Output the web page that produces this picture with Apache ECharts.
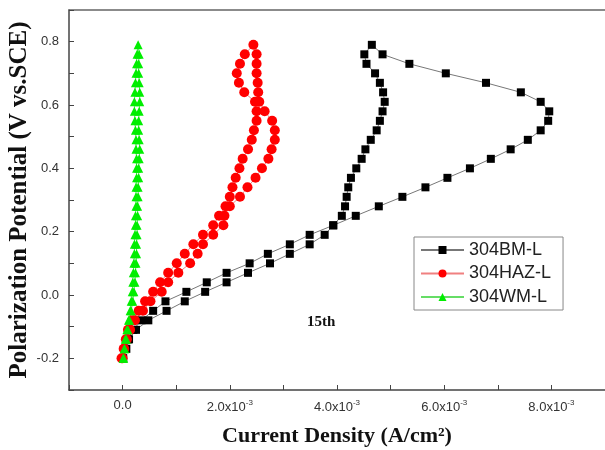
<!DOCTYPE html>
<html>
<head>
<meta charset="utf-8">
<script src="https://cdn.jsdelivr.net/npm/echarts@6/dist/echarts.min.js"></script>
<style>
  html, body { margin: 0; padding: 0; background: #fff; }
  #main { width: 605px; height: 450px; }
</style>
</head>
<body>
<div id="main"></div>
<script>
// potentials (V vs. SCE), forward scan up and reverse scan down
const potUp = [-0.20, -0.17, -0.14, -0.11, -0.08, -0.05, -0.02, 0.01, 0.04, 0.07, 0.10, 0.13, 0.16, 0.19, 0.22, 0.25, 0.28,
  0.31, 0.34, 0.37, 0.40, 0.43, 0.46, 0.49, 0.52, 0.55, 0.58, 0.61, 0.64, 0.67, 0.70, 0.73, 0.76, 0.79];
const potDown = [0.76, 0.73, 0.70, 0.67, 0.64, 0.61, 0.58, 0.55, 0.52, 0.49, 0.46, 0.43, 0.40, 0.37, 0.34, 0.31, 0.28,
  0.25, 0.22, 0.19, 0.16, 0.13, 0.10, 0.07, 0.04, 0.01, -0.02, -0.05, -0.08, -0.11, -0.14, -0.17, -0.20];

// current density in units of 1e-3 A/cm2
const bmUp = [0.01, 0.07, 0.12, 0.25, 0.48, 0.82, 1.16, 1.54, 1.94, 2.34, 2.75, 3.12, 3.49, 3.77, 3.93, 4.09, 4.15,
  4.18, 4.21, 4.26, 4.36, 4.46, 4.53, 4.63, 4.74, 4.80, 4.85, 4.89, 4.86, 4.80, 4.71, 4.55, 4.51, 4.65];
const bmDown = [4.85, 5.35, 6.03, 6.78, 7.43, 7.80, 7.96, 7.94, 7.80, 7.56, 7.24, 6.87, 6.48, 6.06, 5.65, 5.22, 4.78,
  4.35, 3.93, 3.49, 3.12, 2.71, 2.37, 1.94, 1.57, 1.19, 0.80, 0.57, 0.35, 0.20, 0.10, 0.05, 0.01];

const hazUp = [-0.02, 0.02, 0.06, 0.10, 0.18, 0.30, 0.42, 0.57, 0.70, 0.85, 1.01, 1.16, 1.32, 1.50, 1.69, 1.80, 1.92,
  2.00, 2.05, 2.11, 2.18, 2.24, 2.34, 2.41, 2.45, 2.50, 2.50, 2.47, 2.27, 2.17, 2.13, 2.19, 2.28, 2.44];
const hazDown = [2.50, 2.50, 2.50, 2.52, 2.53, 2.55, 2.65, 2.79, 2.84, 2.84, 2.78, 2.72, 2.60, 2.48, 2.33, 2.19, 2.00,
  1.90, 1.88, 1.69, 1.50, 1.40, 1.26, 1.04, 0.85, 0.73, 0.52, 0.38, 0.23, 0.14, 0.08, 0.03, 0.00];

const wmUp = [0.01, 0.03, 0.05, 0.08, 0.11, 0.14, 0.16, 0.18, 0.19, 0.20, 0.21, 0.22, 0.22, 0.23, 0.24, 0.24, 0.25,
  0.25, 0.25, 0.26, 0.26, 0.26, 0.25, 0.25, 0.24, 0.23, 0.22, 0.22, 0.23, 0.24, 0.25, 0.26, 0.27, 0.29];
const wmDown = [0.31, 0.30, 0.30, 0.31, 0.32, 0.32, 0.31, 0.30, 0.30, 0.31, 0.32, 0.31, 0.30, 0.30, 0.29, 0.29, 0.28,
  0.28, 0.27, 0.27, 0.26, 0.26, 0.25, 0.24, 0.23, 0.21, 0.19, 0.16, 0.13, 0.10, 0.07, 0.04, 0.02];

const seriesNames = ['304BM-L', '304HAZ-L', '304WM-L'];
const xTickLabels = ['0.0', '2.0x10', '4.0x10', '6.0x10', '8.0x10'];
const yTickLabels = ['-0.2', '0.0', '0.2', '0.4', '0.6', '0.8'];

// join forward and reverse scans into one path
const loop = (up, down) => {
  const pts = up.map((c, i) => [c, potUp[i]]);
  down.forEach((c, i) => pts.push([c, potDown[i]]));
  return pts;
};

const chart = echarts.init(document.getElementById('main'));
const axisColor = '#444';

const option = {
  animation: false,
  grid: { left: 69, right: 0, top: 10, bottom: 60, containLabel: false, outerBoundsMode: 'none' },
  legend: {
    orient: 'vertical',
    left: 414, top: 237,
    padding: [4, 12, 4, 6],
    itemWidth: 43, itemHeight: 10, itemGap: 5.5,
    borderColor: '#888', borderWidth: 1,
    textStyle: { fontFamily: 'Liberation Sans', fontSize: 18, color: '#222' },
    data: seriesNames
  },
  xAxis: [{
    type: 'value', min: -1, max: 9, interval: 1,
    name: 'Current Density (A/cm²)',
    nameLocation: 'middle', nameGap: 35,
    nameTextStyle: { fontFamily: 'Liberation Serif', fontWeight: 'bold', fontSize: 22, color: '#111' },
    axisLine: { onZero: false, lineStyle: { color: axisColor, width: 1.5 } },
    axisTick: { inside: true, length: 5, lineStyle: { color: axisColor } },
    splitLine: { show: false },
    axisLabel: {
      margin: 9,
      formatter: (v) => {
        const k = Math.round(v);
        if (k < 0 || k > 8 || k % 2) return '';
        const s = xTickLabels[k / 2];
        return k === 0 ? '{a|' + s + '}' : '{a|' + s + '}{s|-3}';
      },
      rich: {
        a: { fontFamily: 'Liberation Sans', fontSize: 13, color: '#333' },
        s: { fontFamily: 'Liberation Sans', fontSize: 8, color: '#333', padding: [0, 0, 8, 0] }
      }
    }
  }, {
    type: 'value', position: 'top', min: -1, max: 9,
    axisLine: { show: true, onZero: false, lineStyle: { color: '#666', width: 1.5 } },
    axisTick: { show: false }, axisLabel: { show: false }, splitLine: { show: false }
  }],
  yAxis: {
    type: 'value', min: -0.3, max: 0.9, interval: 0.1,
    name: 'Polarization Potential (V vs.SCE)',
    nameLocation: 'middle', nameGap: 37, nameMoveOverlap: false,
    nameTextStyle: { fontFamily: 'Liberation Serif', fontWeight: 'bold', fontSize: 25, color: '#111' },
    axisLine: { show: true, onZero: false, lineStyle: { color: axisColor, width: 1.5 } },
    axisTick: { inside: true, length: 5, lineStyle: { color: axisColor } },
    splitLine: { show: false },
    axisLabel: {
      margin: 10,
      fontFamily: 'Liberation Sans', fontSize: 13, color: '#333',
      formatter: (v) => {
        const k = Math.round(v * 10);
        if (k < -2 || k > 8 || (k % 2 !== 0)) return '';
        return yTickLabels[(k + 2) / 2];
      }
    }
  },
  graphic: [{
    type: 'text', left: 307, top: 315,
    style: { text: '15th', fontFamily: 'Liberation Serif', fontWeight: 'bold', fontSize: 15, fill: '#111' }
  }],
  series: [{
    name: seriesNames[0], type: 'line', data: loop(bmUp, bmDown),
    symbol: 'rect', symbolSize: 8, showAllSymbol: true,
    itemStyle: { color: '#000' },
    lineStyle: { color: '#777', width: 1 }
  }, {
    name: seriesNames[1], type: 'line', data: loop(hazUp, hazDown),
    symbol: 'circle', symbolSize: 10, showAllSymbol: true,
    itemStyle: { color: '#ff0000' },
    lineStyle: { color: '#f08080', width: 1 }
  }, {
    name: seriesNames[2], type: 'line', data: loop(wmUp, wmDown),
    symbol: 'triangle', symbolSize: 9, showAllSymbol: true,
    itemStyle: { color: '#00ee00' },
    lineStyle: { color: '#66dd66', width: 1 }
  }]
};
chart.setOption(option);
</script>
</body>
</html>
